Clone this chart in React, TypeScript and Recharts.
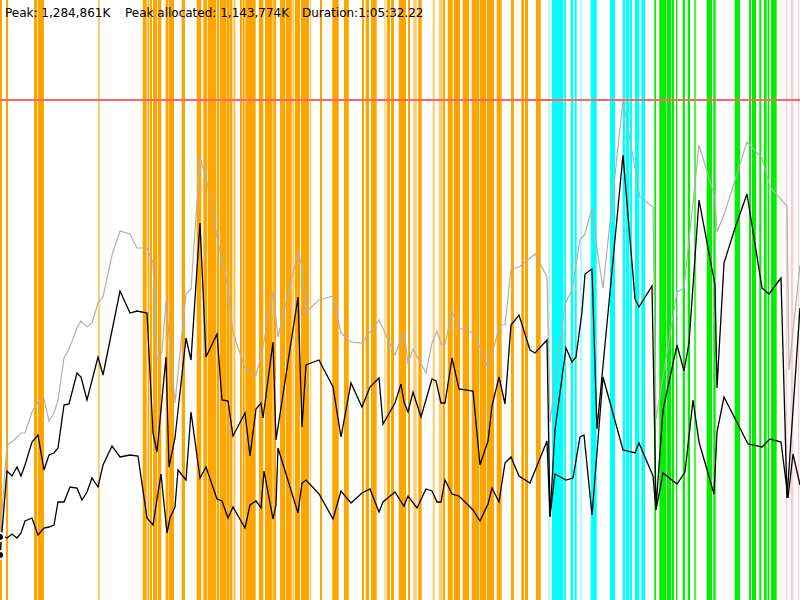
import React from "react";
import { LineChart, Line, XAxis, YAxis, ReferenceArea, ReferenceLine } from "recharts";

// Time positions (timeline units, 0..800) and memory levels (chart units, 0..600)
const grayTimes = [0,7,12,21,25,32,38,44,49,54,58,64,69,77,81,87,92,98,103,112,120,130,137,147,153,157,162,166,175,186,191,200,206,217,222,228,233,245,256,261,273,278,298,302,306,319,333,341,351,362,379,395,404,408,413,426,432,437,441,445,452,459,473,480,488,500,505,511,519,535,547,550,565,572,580,585,592,597,603,623,640,653,656,677,684,699,715,717,725,747,762,770,787,789,800];
const grayValues = [63,155,158,167,167,188,198,201,179,187,200,242,251,272,279,273,277,297,303,345,369,366,352,352,337,240,248,299,197,306,311,442,423,363,340,313,267,232,225,243,308,263,348,333,288,300,304,267,258,257,280,245,269,236,251,227,257,269,256,256,288,272,267,253,232,275,275,331,333,346,323,177,296,310,360,366,393,351,312,500,403,393,181,308,312,455,402,368,388,458,442,413,394,230,335];

const upperTimes = [0,7,12,17,21,25,32,38,44,49,54,58,64,69,77,81,87,98,103,120,130,137,147,153,157,166,169,175,186,191,200,206,217,222,228,233,245,250,256,261,263,273,276,298,302,306,319,333,341,351,362,370,379,383,395,401,404,408,413,421,432,436,441,445,452,459,473,480,488,492,499,505,511,519,530,535,547,550,555,566,572,576,582,585,592,597,623,635,639,652,656,663,677,684,689,699,715,717,724,735,747,762,769,781,787,800];
const upperValues = [45,129,124,133,124,135,158,165,130,145,147,152,195,196,227,223,200,243,225,309,287,289,287,167,148,243,133,162,262,240,377,243,266,200,199,164,187,144,191,197,182,258,160,303,173,235,240,213,163,217,193,213,222,176,197,216,198,188,208,183,221,219,197,197,242,211,209,135,159,194,223,196,275,285,250,247,260,83,170,252,238,243,288,326,331,171,445,301,293,314,92,190,255,229,257,400,315,212,337,372,406,312,306,322,102,292];

const lowerTimes = [0,3,7,12,17,21,25,32,38,44,49,54,58,64,70,77,82,87,92,98,103,112,120,130,138,147,153,161,167,170,175,178,186,191,200,206,217,222,228,233,245,250,256,261,264,273,276,278,298,302,306,319,333,341,351,362,370,379,383,395,400,404,408,417,426,432,437,441,445,452,459,473,480,488,492,499,505,511,519,530,547,550,555,566,573,580,584,592,603,623,635,639,653,656,663,677,685,693,699,714,717,724,748,762,770,781,788,793,800];
const lowerValues = [63,64,62,66,62,67,79,82,65,72,73,75,98,98,113,112,100,108,122,113,135,154,143,145,144,82,75,126,67,82,93,130,120,188,122,133,101,99,82,93,72,95,99,92,129,81,95,152,87,117,120,106,81,109,97,107,111,88,98,108,100,94,104,92,111,109,98,98,120,106,104,90,79,96,112,98,137,143,124,117,159,84,126,120,122,163,165,85,223,150,147,157,124,90,127,116,128,200,158,106,168,203,156,153,161,158,102,146,115];

const PEAK_LEVEL = 500;

// Activity bands on the timeline: [start, end]
const orangeBands: [number, number][] = [
  [0,2],[6,8],[34,37.3],[38,44],[142.7,146.7],[147.7,149.3],[150,152],[153,157.3],[158,161.3],[165.7,168.3],[168.7,174],[181.7,185],[196.7,201.3],
  [203.3,207],[207.7,216],[216.7,219],[219.7,226.3],[226.7,229.7],[230,232.3],[234.3,235.3],[240,242],[242.7,244.7],[245.3,255.7],[259,263.3],[265,272.7],[273.3,276],
  [280,285],[285.7,291.7],[294.7,300],[301,309],[320,322],[332.3,338.7],[344,348.7],[362,364],[365.7,369],[371,376.7],[387,390],[391,394],[398.7,406],
  [408,410],[418.3,421.7],[442.7,445],[447.7,452.7],[453.7,460],[462.7,469],[471.7,479],[479.7,486],[486.7,494],[496.7,501.7],[511,514],[521.3,524],[525,528],[536,540.7],
];
const lightOrangeBands: [number, number][] = [
  [98,100],[232.7,233.7],[292.3,294],[310,311.3],[384.3,385.7],[413.3,416.7],[432.7,434.7],[438.7,442],
];
const cyanBands: [number, number][] = [
  [552,563.3],[564.3,566],[570.7,573.3],[574.7,576.7],[590.7,596.7],[610,615],[622.7,625.3],[626,629.3],[630,632],[635,639.3],[641.3,645],
];
const lightCyanBands: [number, number][] = [[548,550],[580,582]];
const greenBands: [number, number][] = [
  [654.3,656],[659.3,666],[666.7,671.3],[672,674],[676,677.3],[682.7,685],[687.7,690],[694.3,695.7],[706.7,712],[713.3,715.7],
  [734.7,740],[749,751],[752,756],[759.3,761.3],[764,766.7],[767.7,769.3],[771,776.7],
];
const pinkBands: [number, number][] = [[785.7,787.3],[790.7,793.3],[798,799.3]];

const headerTexts = ["Peak: 1,284,861K", "Peak allocated: 1,143,774K", "Duration:1:05:32.22"];
const headerX = [5, 125, 302];

const toSeries = (t: number[], v: number[]) => t.map((x, i) => ({ t: x, v: v[i] }));
const grayData = toSeries(grayTimes, grayValues);
const upperData = toSeries(upperTimes, upperValues);
const lowerData = toSeries(lowerTimes, lowerValues);

const bandGroups: { bands: [number, number][]; color: string }[] = [
  { bands: orangeBands, color: "#FFA500" },
  { bands: lightOrangeBands, color: "#FFCB73" },
  { bands: cyanBands, color: "#00FFFF" },
  { bands: lightCyanBands, color: "#A8FFFF" },
  { bands: greenBands, color: "#00F000" },
  { bands: pinkBands, color: "#FFCCD5" },
];

export default function App() {
  return (
    <div style={{ position: "absolute", left: 0, top: 0, width: 800, height: 600, background: "#fff" }}>
      <LineChart width={800} height={600} margin={{ top: 0, right: 0, bottom: 0, left: 0 }}>
        <XAxis type="number" dataKey="t" domain={[0, 800]} allowDataOverflow hide />
        <YAxis type="number" domain={[0, 600]} allowDataOverflow hide />
        {bandGroups.flatMap((g, gi) =>
          g.bands.map((b, i) => (
            <ReferenceArea
              key={`b${gi}-${i}`}
              x1={b[0]}
              x2={b[1]}
              y1={0}
              y2={600}
              fill={g.color}
              fillOpacity={1}
              stroke="none"
              isFront={false}
            />
          ))
        )}
        <Line data={grayData} dataKey="v" type="linear" stroke="#b0b0b0" strokeWidth={1.2} dot={false} isAnimationActive={false} />
        <Line data={upperData} dataKey="v" type="linear" stroke="#000" strokeWidth={1.3} dot={false} isAnimationActive={false} />
        <Line data={lowerData} dataKey="v" type="linear" stroke="#000" strokeWidth={1.3} dot={false} isAnimationActive={false} />
        <ReferenceLine y={PEAK_LEVEL} stroke="#ff6464" strokeWidth={2} ifOverflow="extendDomain" />
      </LineChart>
      <svg width={800} height={30} style={{ position: "absolute", left: 0, top: 0, pointerEvents: "none" }}>
        {headerTexts.map((s, i) => (
          <text key={i} x={headerX[i]} y={17} fontFamily="DejaVu Sans, sans-serif" fontSize={12} fill="#000">
            {s}
          </text>
        ))}
      </svg>
    </div>
  );
}
